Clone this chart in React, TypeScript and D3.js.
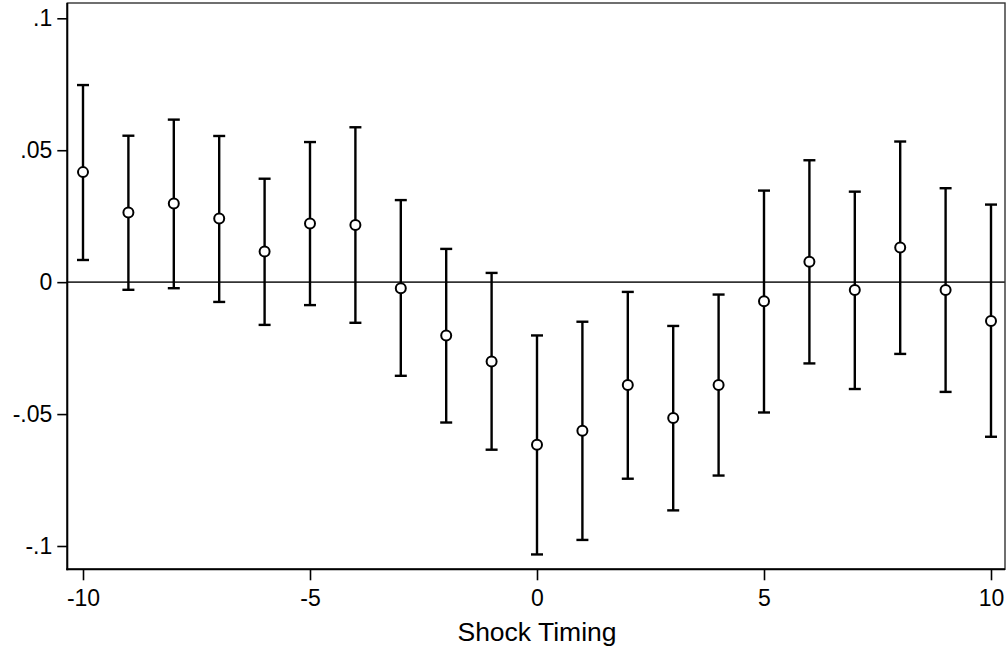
import React, { useRef, useEffect } from "react";
import * as d3 from "d3";

// event-time estimates
const periods = [-10, -9, -8, -7, -6, -5, -4, -3, -2, -1, 0, 1, 2, 3, 4, 5, 6, 7, 8, 9, 10];
const estimates = [
  0.0417, 0.0264, 0.0298, 0.0241, 0.0116, 0.0222, 0.0217, -0.0023, -0.0202, -0.0301,
  -0.0616, -0.0563, -0.039, -0.0515, -0.039, -0.0072, 0.0077, -0.003, 0.0131, -0.003, -0.0147,
];
const upper = [
  0.0747, 0.0555, 0.0616, 0.0554, 0.0392, 0.0531, 0.0587, 0.0311, 0.0126, 0.0035,
  -0.0202, -0.015, -0.0037, -0.0166, -0.0047, 0.0347, 0.0462, 0.0343, 0.0533, 0.0356, 0.0294,
];
const lower = [
  0.0084, -0.0029, -0.0023, -0.0075, -0.0162, -0.0087, -0.0154, -0.0355, -0.0532, -0.0635,
  -0.1032, -0.0977, -0.0745, -0.0865, -0.0733, -0.0494, -0.0308, -0.0405, -0.0272, -0.0416, -0.0586,
];
const yTicks = [0.1, 0.05, 0, -0.05, -0.1];
const yTickLabels = [".1", ".05", "0", "-.05", "-.1"];
const xTicks = [-10, -5, 0, 5, 10];
const xTickLabels = ["-10", "-5", "0", "5", "10"];
const xTitle = "Shock Timing";

const W = 1006;
const H = 648;
const FONT = "'Liberation Sans', Arial, sans-serif";

const App = () => {
  const ref = useRef<SVGSVGElement | null>(null);

  useEffect(() => {
    if (!ref.current) return;
    const svg = d3.select(ref.current);
    svg.selectAll("*").remove();

    const frame = { left: 67.3, right: 1005, top: 3, bottom: 569.3 };

    const x = d3.scaleLinear().domain([-10, 10]).range([83, 991]);
    const y = d3.scaleLinear().domain([-0.1, 0.1]).range([546, 18.3]);

    const data = periods.map((p, i) => ({
      t: p,
      est: estimates[i],
      hi: upper[i],
      lo: lower[i],
    }));

    // outer box (top/right)
    svg
      .append("rect")
      .attr("x", frame.left)
      .attr("y", frame.top)
      .attr("width", frame.right - frame.left)
      .attr("height", frame.bottom - frame.top)
      .attr("fill", "none")
      .attr("stroke", "#333")
      .attr("stroke-width", 1.4);

    // zero reference line
    svg
      .append("line")
      .attr("x1", frame.left)
      .attr("x2", frame.right)
      .attr("y1", y(0))
      .attr("y2", y(0))
      .attr("stroke", "#333")
      .attr("stroke-width", 1.6);

    // y axis
    const yAxis = svg
      .append("g")
      .attr("transform", `translate(${frame.left},0)`)
      .call(
        d3
          .axisLeft(y)
          .tickValues(yTicks)
          .tickSize(10)
          .tickPadding(5)
          .tickFormat((d, i) => yTickLabels[i])
      );
    yAxis.select(".domain").remove();
    yAxis.selectAll(".tick line").attr("stroke", "#000").attr("stroke-width", 1.6);
    yAxis
      .selectAll(".tick text")
      .attr("font-family", FONT)
      .attr("font-size", 23)
      .attr("fill", "#000");
    svg
      .append("line")
      .attr("x1", frame.left)
      .attr("x2", frame.left)
      .attr("y1", frame.top)
      .attr("y2", frame.bottom + 1)
      .attr("stroke", "#000")
      .attr("stroke-width", 2);

    // x axis
    const xAxis = svg
      .append("g")
      .attr("transform", `translate(0,${frame.bottom})`)
      .call(
        d3
          .axisBottom(x)
          .tickValues(xTicks)
          .tickSize(11)
          .tickPadding(9)
          .tickFormat((d, i) => xTickLabels[i])
      );
    xAxis.select(".domain").remove();
    xAxis.selectAll(".tick line").attr("stroke", "#000").attr("stroke-width", 1.6);
    xAxis
      .selectAll(".tick text")
      .attr("font-family", FONT)
      .attr("font-size", 23)
      .attr("fill", "#000");
    svg
      .append("line")
      .attr("x1", frame.left - 1)
      .attr("x2", frame.right)
      .attr("y1", frame.bottom)
      .attr("y2", frame.bottom)
      .attr("stroke", "#000")
      .attr("stroke-width", 2);

    // axis title
    svg
      .append("text")
      .attr("x", x(0))
      .attr("y", 641)
      .attr("text-anchor", "middle")
      .attr("font-family", FONT)
      .attr("font-size", 26.5)
      .attr("fill", "#000")
      .text(xTitle);

    // error bars
    const capHalf = 6;
    const bars = svg.append("g").attr("stroke", "#000").attr("stroke-width", 2.4);
    bars
      .selectAll("line.stem")
      .data(data)
      .enter()
      .append("line")
      .attr("class", "stem")
      .attr("x1", (d) => x(d.t))
      .attr("x2", (d) => x(d.t))
      .attr("y1", (d) => y(d.hi))
      .attr("y2", (d) => y(d.lo));
    bars
      .selectAll("line.capHi")
      .data(data)
      .enter()
      .append("line")
      .attr("class", "capHi")
      .attr("x1", (d) => x(d.t) - capHalf)
      .attr("x2", (d) => x(d.t) + capHalf)
      .attr("y1", (d) => y(d.hi))
      .attr("y2", (d) => y(d.hi));
    bars
      .selectAll("line.capLo")
      .data(data)
      .enter()
      .append("line")
      .attr("class", "capLo")
      .attr("x1", (d) => x(d.t) - capHalf)
      .attr("x2", (d) => x(d.t) + capHalf)
      .attr("y1", (d) => y(d.lo))
      .attr("y2", (d) => y(d.lo));

    // point estimates
    svg
      .append("g")
      .selectAll("circle")
      .data(data)
      .enter()
      .append("circle")
      .attr("cx", (d) => x(d.t))
      .attr("cy", (d) => y(d.est))
      .attr("r", 5)
      .attr("fill", "#fff")
      .attr("stroke", "#000")
      .attr("stroke-width", 2);
  }, []);

  return (
    <svg
      ref={ref}
      width={W}
      height={H}
      style={{ position: "absolute", left: 0, top: 0, background: "#fff" }}
    />
  );
};

export default App;
